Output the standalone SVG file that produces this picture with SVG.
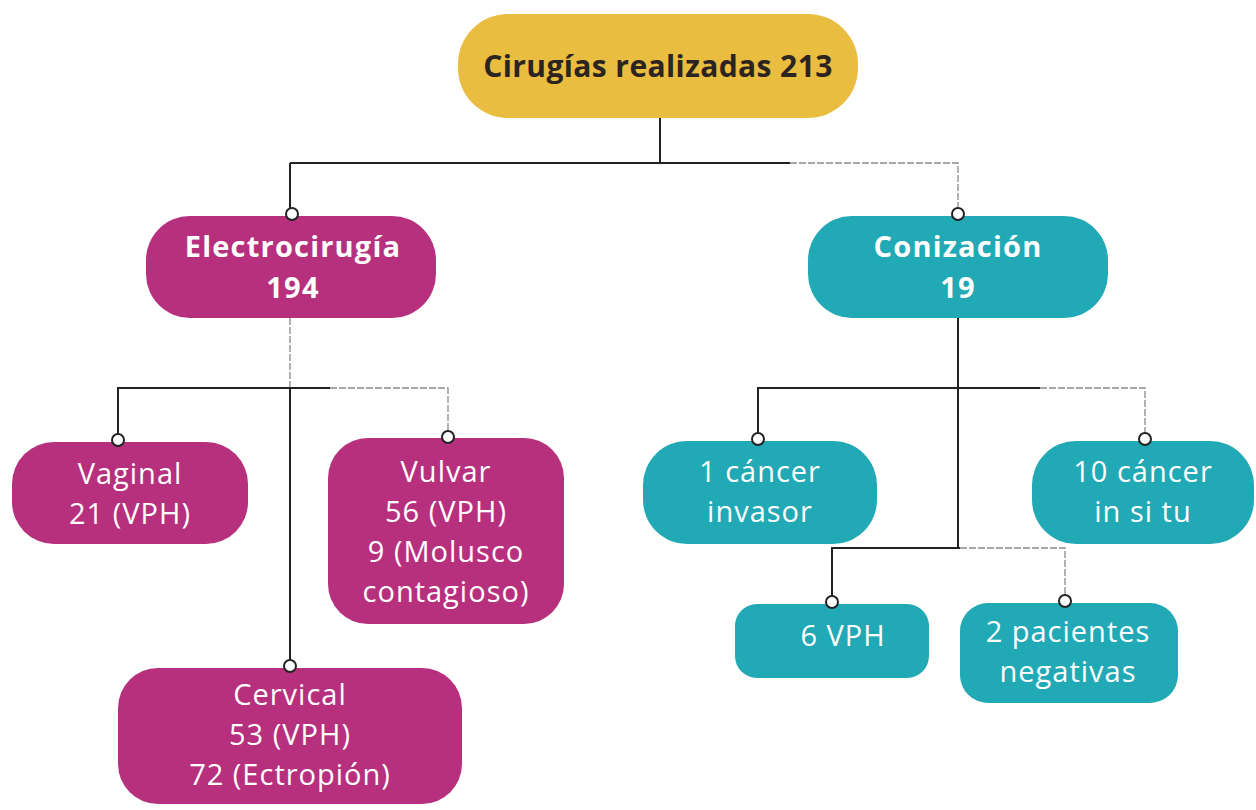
<svg xmlns="http://www.w3.org/2000/svg" width="1256" height="810" viewBox="0 0 1256 810">
<style>
.t{font-family:"Open Sans","Noto Sans","Liberation Sans",sans-serif;font-size:29px;letter-spacing:1px;fill:#ffffff;text-anchor:middle}
.b{font-weight:bold;letter-spacing:1.2px}
.top{font-size:30px;letter-spacing:0.4px}
.dark{fill:#2b2420}
.mag{fill:#B7307E}
.teal{fill:#21A9B5}
.yel{fill:#E9BD3F}
.ln{fill:none;stroke:#222;stroke-width:2}
.lt{fill:none;stroke:#8a8a8a;stroke-width:1.3;stroke-dasharray:7 2}
.dot{fill:#fff;stroke:#222;stroke-width:2}
</style>
<rect width="1256" height="810" fill="#fff"/>
<g id="root">
<rect class="yel" x="458" y="14" width="400" height="104" rx="50"/>
<text class="t b top dark" x="658" y="77">Cirugías realizadas 213</text>
</g>
<g id="electrocirugia">
<rect class="mag" x="146" y="216" width="290" height="102" rx="44"/>
<text class="t b" x="293" y="257">Electrocirugía</text>
<text class="t b" x="293" y="298">194</text>
</g>
<g id="conizacion">
<rect class="teal" x="808" y="216" width="300" height="102" rx="44"/>
<text class="t b" x="958" y="257">Conización</text>
<text class="t b" x="958" y="298">19</text>
</g>
<g id="vaginal">
<rect class="mag" x="12" y="442" width="236" height="102" rx="42"/>
<text class="t" x="130" y="484">Vaginal</text>
<text class="t" x="130" y="524">21 (VPH)</text>
</g>
<g id="vulvar">
<rect class="mag" x="328" y="438" width="236" height="186" rx="40"/>
<text class="t" x="446" y="482">Vulvar</text>
<text class="t" x="446" y="522">56 (VPH)</text>
<text class="t" x="446" y="562">9 (Molusco</text>
<text class="t" x="446" y="602">contagioso)</text>
</g>
<g id="cervical">
<rect class="mag" x="118" y="668" width="344" height="136" rx="40"/>
<text class="t" x="290" y="705">Cervical</text>
<text class="t" x="290" y="745">53 (VPH)</text>
<text class="t" x="290" y="785">72 (Ectropión)</text>
</g>
<g id="cancer-invasor">
<rect class="teal" x="643" y="441" width="234" height="103" rx="44"/>
<text class="t" x="760" y="482">1 cáncer</text>
<text class="t" x="760" y="522">invasor</text>
</g>
<g id="cancer-in-situ">
<rect class="teal" x="1032" y="441" width="222" height="103" rx="44"/>
<text class="t" x="1143" y="482">10 cáncer</text>
<text class="t" x="1143" y="522">in si tu</text>
</g>
<g id="vph">
<rect class="teal" x="735" y="604" width="194" height="74" rx="22"/>
<text class="t" x="843" y="646">6 VPH</text>
</g>
<g id="negativas">
<rect class="teal" x="960" y="603" width="218" height="100" rx="28"/>
<text class="t" x="1068" y="642">2 pacientes</text>
<text class="t" x="1068" y="682">negativas</text>
</g>
<g id="connectors">
<path class="ln" d="M660 118V163M290 163H790M290 163V208"/>
<path class="lt" d="M790 163H958V208"/>
<path class="lt" d="M290 318V388"/>
<path class="ln" d="M118 434V388H330M290 388V660"/>
<path class="lt" d="M330 388H448V431"/>
<path class="ln" d="M958 318V548M758 433V388H1040M832 596V548H960"/>
<path class="lt" d="M1040 388H1145V433M960 548H1065V595"/>
<circle class="dot" cx="292" cy="214" r="6"/>
<circle class="dot" cx="958" cy="214" r="6"/>
<circle class="dot" cx="118" cy="440" r="6"/>
<circle class="dot" cx="448" cy="437" r="6"/>
<circle class="dot" cx="290" cy="666" r="6"/>
<circle class="dot" cx="758" cy="439" r="6"/>
<circle class="dot" cx="1145" cy="439" r="6"/>
<circle class="dot" cx="832" cy="602" r="6"/>
<circle class="dot" cx="1065" cy="601" r="6"/>
</g>
</svg>
